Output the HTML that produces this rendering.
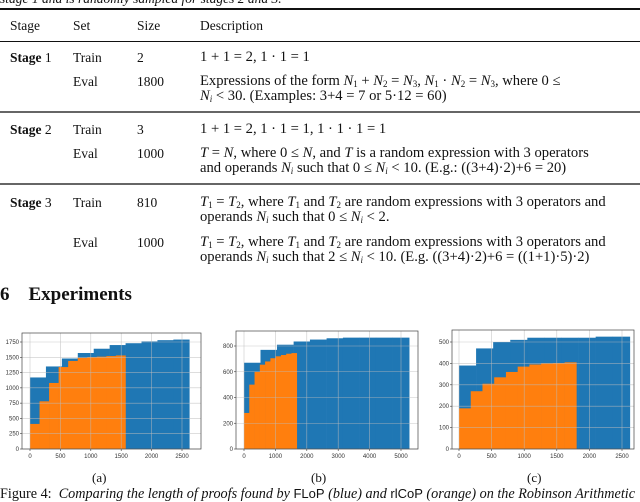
<!DOCTYPE html>
<html><head><meta charset="utf-8"><style>
body{margin:0;width:640px;height:502px;overflow:hidden;background:#fff;font-family:"Liberation Serif",serif;color:#111;position:relative}
.t{position:absolute;font-size:13.5px;white-space:nowrap;line-height:15px}
.d{font-size:14.6px}
sub{font-size:9px;line-height:0;vertical-align:-2px}
.r{position:absolute;left:0;width:640px;background:#111}
i{font-style:italic}
</style></head><body>
<div class="t" style="top:-9px;left:0"><i>stage 1 and is randomly sampled for stages 2 and 3.</i></div>
<div class="r" style="top:8px;height:2px"></div>
<div class="t" style="top:18px;left:10px">Stage</div>
<div class="t" style="top:18px;left:73px">Set</div>
<div class="t" style="top:18px;left:137px">Size</div>
<div class="t" style="top:18px;left:200px">Description</div>
<div class="r" style="top:41px;height:1px"></div>

<div class="t" style="top:50px;left:10px"><b>Stage</b> 1</div>
<div class="t" style="top:50px;left:73px">Train</div>
<div class="t" style="top:50px;left:137px">2</div>
<div class="t d" style="top:50px;left:200px">1 + 1 = 2, 1 · 1 = 1</div>
<div class="t" style="top:74px;left:73px">Eval</div>
<div class="t" style="top:74px;left:137px">1800</div>
<div class="t d" style="top:74px;left:200px">Expressions of the form <i>N</i><sub>1</sub> + <i>N</i><sub>2</sub> = <i>N</i><sub>3</sub>, <i>N</i><sub>1</sub> · <i>N</i><sub>2</sub> = <i>N</i><sub>3</sub>, where 0 ≤<br><i>N<sub>i</sub></i> &lt; 30. (Examples: 3+4 = 7 or 5·12 = 60)</div>
<div class="r" style="top:111px;height:2px;background:#666"></div>

<div class="t" style="top:122px;left:10px"><b>Stage</b> 2</div>
<div class="t" style="top:122px;left:73px">Train</div>
<div class="t" style="top:122px;left:137px">3</div>
<div class="t d" style="top:122px;left:200px">1 + 1 = 2, 1 · 1 = 1, 1 · 1 · 1 = 1</div>
<div class="t" style="top:146px;left:73px">Eval</div>
<div class="t" style="top:146px;left:137px">1000</div>
<div class="t d" style="top:146px;left:200px"><i>T</i> = <i>N</i>, where 0 ≤ <i>N</i>, and <i>T</i> is a random expression with 3 operators<br>and operands <i>N<sub>i</sub></i> such that 0 ≤ <i>N<sub>i</sub></i> &lt; 10. (E.g.: ((3+4)·2)+6 = 20)</div>
<div class="r" style="top:183px;height:2px;background:#666"></div>

<div class="t" style="top:195px;left:10px"><b>Stage</b> 3</div>
<div class="t" style="top:195px;left:73px">Train</div>
<div class="t" style="top:195px;left:137px">810</div>
<div class="t d" style="top:195px;left:200px"><i>T</i><sub>1</sub> = <i>T</i><sub>2</sub>, where <i>T</i><sub>1</sub> and <i>T</i><sub>2</sub> are random expressions with 3 operators and<br>operands <i>N<sub>i</sub></i> such that 0 ≤ <i>N<sub>i</sub></i> &lt; 2.</div>
<div class="t" style="top:235px;left:73px">Eval</div>
<div class="t" style="top:235px;left:137px">1000</div>
<div class="t d" style="top:235px;left:200px"><i>T</i><sub>1</sub> = <i>T</i><sub>2</sub>, where <i>T</i><sub>1</sub> and <i>T</i><sub>2</sub> are random expressions with 3 operators and<br>operands <i>N<sub>i</sub></i> such that 2 ≤ <i>N<sub>i</sub></i> &lt; 10. (E.g. ((3+4)·2)+6 = ((1+1)·5)·2)</div>

<div class="t" style="top:284px;left:0;font-size:19px;line-height:22px;font-weight:bold">6&nbsp;&nbsp;&nbsp;&nbsp;Experiments</div>

<svg id="charts" width="640" height="502" style="position:absolute;left:0;top:0" font-family="Liberation Sans, sans-serif"></svg>

<div class="t" style="top:470px;left:92px;font-size:13px">(a)</div>
<div class="t" style="top:470px;left:311px;font-size:13px">(b)</div>
<div class="t" style="top:470px;left:527px;font-size:13px">(c)</div>
<div class="t" style="top:486px;left:0;font-size:14.2px">Figure 4:&nbsp; <i>Comparing the length of proofs found by </i><span style="font-family:'Liberation Sans',sans-serif;font-size:13px">FLoP</span><i> (blue) and </i><span style="font-family:'Liberation Sans',sans-serif;font-size:13px">rlCoP</span><i> (orange) on the Robinson Arithmetic</i></div>

<script>
// Chart (a)
const aBlueEdges=[0,262,524,786,1048,1310,1572,1834,2096,2358,2620];
const aBlueVals=[1170,1350,1480,1570,1640,1700,1730,1760,1780,1790];
const aOrangeEdges=[0,157,314,471,628,785,942,1099,1256,1413,1570];
const aOrangeVals=[410,780,1080,1340,1440,1490,1500,1510,1520,1530];
const aXTicks=[0,500,1000,1500,2000,2500];
const aYTicks=[0,250,500,750,1000,1250,1500,1750];
// Chart (b)
const bBlueEdges=[0,525,1050,1580,2100,2630,3150,3680,4200,4730,5260];
const bBlueVals=[670,770,810,835,850,860,865,865,865,865];
const bOrangeEdges=[0,168,336,504,672,840,1008,1176,1344,1512,1680];
const bOrangeVals=[280,500,600,655,680,705,720,730,740,745];
const bXTicks=[0,1000,2000,3000,4000,5000];
const bYTicks=[0,200,400,600,800];
// Chart (c)
const cBlueEdges=[0,262,524,786,1048,1310,1572,1834,2096,2358,2620];
const cBlueVals=[390,470,500,510,520,520,520,520,525,525];
const cOrangeEdges=[0,180,360,540,720,900,1080,1260,1440,1620,1800];
const cOrangeVals=[190,270,305,335,360,385,395,400,402,405];
const cXTicks=[0,500,1000,1500,2000,2500];
const cYTicks=[0,100,200,300,400,500];

const svg=document.getElementById('charts');
const NS='http://www.w3.org/2000/svg';
function mk(tag,attrs,parent){const e=document.createElementNS(NS,tag);for(const k in attrs)e.setAttribute(k,attrs[k]);parent.appendChild(e);return e;}

function chart(id,box,xmap,ymap,blueE,blueV,orE,orV,xt,yt){
  const g=mk('g',{},svg);
  
  
  const X=v=>xmap[0]+(v-xmap[1])*xmap[2];
  const Y=v=>ymap[0]-v*ymap[1];
  function bars(E,V,col,name){
    for(let i=0;i<V.length;i++){
      const r=mk('rect',{x:X(E[i]),y:Y(V[i]),width:X(E[i+1])-X(E[i])+0.3,height:Y(0)-Y(V[i]),fill:col},g);
      
      
    }
  }
  bars(blueE,blueV,'#1f77b4','flop');
  bars(orE,orV,'#ff7f0e','rlcop');
  xt.forEach(v=>{
    const l=mk('line',{x1:X(v),x2:X(v),y1:box.t,y2:box.b,stroke:'#bbb','stroke-width':0.6,'stroke-opacity':0.8},g);
    
    
    mk('line',{x1:X(v),x2:X(v),y1:box.b,y2:box.b+2,stroke:'#333','stroke-width':0.6},g);
    const t=mk('text',{x:X(v),y:box.b+9,'font-size':6,'text-anchor':'middle',fill:'#333'},g);
    t.textContent=v;
    
    
  });
  yt.forEach(v=>{
    const l=mk('line',{x1:box.l,x2:box.r,y1:Y(v),y2:Y(v),stroke:'#bbb','stroke-width':0.6,'stroke-opacity':0.8},g);
    
    
    mk('line',{x1:box.l-2,x2:box.l,y1:Y(v),y2:Y(v),stroke:'#333','stroke-width':0.6},g);
    const t=mk('text',{x:box.l-3,y:Y(v)+2,'font-size':6,'text-anchor':'end',fill:'#333'},g);
    t.textContent=v;
    
    
  });
  const f=mk('rect',{x:box.l,y:box.t,width:box.r-box.l,height:box.b-box.t,fill:'none',stroke:'#444','stroke-width':0.7},g);
  
  
}
chart('a',{l:22,r:201,t:333,b:449},[30,0,152/2500],[449,107/1750],aBlueEdges,aBlueVals,aOrangeEdges,aOrangeVals,aXTicks,aYTicks);
chart('b',{l:236,r:418,t:331,b:449},[244,0,157/5000],[449,103/800],bBlueEdges,bBlueVals,bOrangeEdges,bOrangeVals,bXTicks,bYTicks);
chart('c',{l:452,r:634,t:330,b:449},[459,0,163/2500],[449,107/500],cBlueEdges,cBlueVals,cOrangeEdges,cOrangeVals,cXTicks,cYTicks);
</script>
</body></html>
